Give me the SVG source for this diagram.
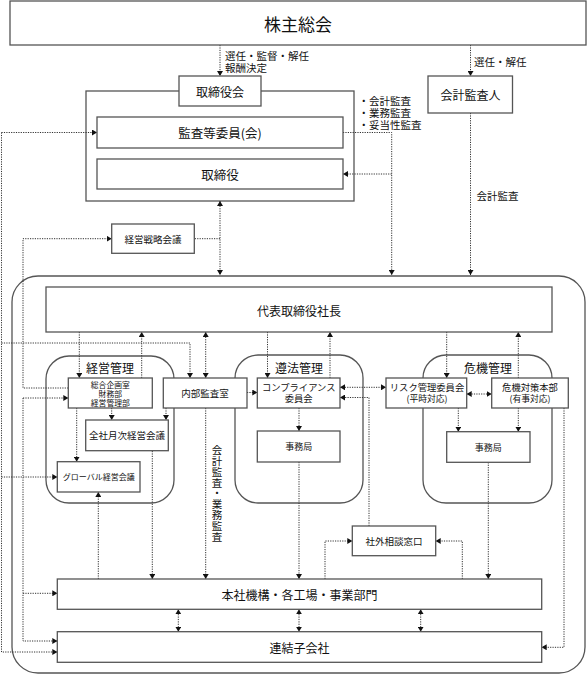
<svg xmlns="http://www.w3.org/2000/svg" width="587" height="674" viewBox="0 0 587 674">
<defs>
<style>
.box{fill:#fff;stroke:#555;stroke-width:1.3}
.frame{fill:none;stroke:#555;stroke-width:1.3}
.c{fill:none;stroke:#333;stroke-width:1;stroke-dasharray:1.2 1.2}
.e{marker-end:url(#a)}
.b{marker-start:url(#a);marker-end:url(#a)}
text{font-family:"Noto Sans CJK JP","Noto Sans CJK SC",sans-serif;fill:#111;text-anchor:middle;dominant-baseline:central}
.lbl{text-anchor:start;font-size:10.5px}
.vert{writing-mode:vertical-rl;text-anchor:start;font-size:10.5px;letter-spacing:0.3px}
</style>
<marker id="a" viewBox="0 0 5 6" refX="5" refY="3" markerWidth="5" markerHeight="6" markerUnits="userSpaceOnUse" orient="auto-start-reverse"><path d="M0,0L5,3L0,6z" fill="#111"/></marker>
</defs>
<rect width="587" height="674" fill="#fff"/>

<!-- frames -->
<g id="frames">
<rect id="board-frame" class="frame" x="86" y="91" width="268" height="110"/>
<rect id="exec-frame" class="frame" x="12" y="276" width="573" height="397" rx="26"/>
<rect id="keiei-frame" class="frame" x="46" y="356" width="128" height="147" rx="23"/>
<rect id="junpo-frame" class="frame" x="235" y="355" width="128" height="148" rx="23"/>
<rect id="kiki-frame" class="frame" x="423" y="355" width="129" height="148" rx="23"/>
<text x="110" y="367" font-size="12">経営管理</text>
<text x="299" y="367" font-size="12">遵法管理</text>
<text x="488" y="367" font-size="12">危機管理</text>
</g>

<!-- connectors -->
<g id="connectors">
<path class="c e" d="M220,45V76"/>
<path class="c e" d="M470.5,45V76"/>
<path class="c e" d="M470.5,113V275"/>
<path class="c e" d="M343,132.5H391.7V275"/>
<path class="c e" d="M391.7,174H343"/>
<path class="c b" d="M220,201V275"/>
<path class="c" d="M220,238.7H194.3"/>
<path class="c e" d="M68.3,388H23V238.7H111.7"/>
<path class="c e" d="M23,398H68.3"/>
<path class="c e" d="M23,398V641H57.3"/>
<path class="c e" d="M23,593.3H57.3"/>
<path class="c e" d="M1.5,132.5H97"/>
<path class="c e" d="M1.5,132.5V652H57.3"/>
<path class="c e" d="M1.5,343H190V378"/>
<path class="c e" d="M1.5,477H57.3"/>
<path class="c e" d="M79.3,332V378"/>
<path class="c e" d="M141.7,378V332"/>
<path class="c b" d="M205.7,332V378"/>
<path class="c e" d="M267.5,332V378"/>
<path class="c e" d="M330,378V332"/>
<path class="c e" d="M446.7,332V378"/>
<path class="c e" d="M518.3,378V332"/>
<path class="c e" d="M247,392.5H257.3"/>
<path class="c b" d="M340,387.3H386"/>
<path class="c e" d="M369,526V397.5H340"/>
<path class="c b" d="M466.7,394H491.7"/>
<path class="c e" d="M458.3,408V431.7"/>
<path class="c e" d="M518.3,408V431.7"/>
<path class="c e" d="M299,408V431"/>
<path class="c e" d="M111.7,408V420"/>
<path class="c e" d="M166,408V420"/>
<path class="c e" d="M76.7,408V461.7"/>
<path class="c e" d="M98.3,579V492"/>
<path class="c e" d="M152.3,451V579"/>
<path class="c e" d="M205.7,408V579"/>
<path class="c e" d="M299,462V579"/>
<path class="c e" d="M325,579V541H352.3"/>
<path class="c e" d="M462.3,579V541H435.7"/>
<path class="c e" d="M488.3,462.3V579"/>
<path class="c e" d="M564,408V647.3H541.7"/>
<path class="c b" d="M178.3,609.3V631.7"/>
<path class="c b" d="M299,609.3V631.7"/>
<path class="c b" d="M420.7,609.3V631.7"/>
<text class="lbl" x="225" y="55.5">選任・監督・解任</text>
<text class="lbl" x="225" y="67">報酬決定</text>
<text class="lbl" x="474" y="61">選任・解任</text>
<text class="lbl" x="358.5" y="100.5">・会計監査</text>
<text class="lbl" x="358.5" y="112.3">・業務監査</text>
<text class="lbl" x="358.5" y="124">・妥当性監査</text>
<text class="lbl" x="476.5" y="195">会計監査</text>
<text class="vert" x="217" y="445">会計監査・業務監査</text>
</g>

<!-- nodes -->
<g id="kabunushi"><rect class="box" x="10" y="1" width="576" height="44"/><text x="298" y="23" font-size="17">株主総会</text></g>
<g id="torishimariyakukai"><rect class="box" x="179" y="76" width="82" height="30"/><text x="220" y="91" font-size="12">取締役会</text></g>
<g id="kaikei-kansanin"><rect class="box" x="428" y="76" width="84.5" height="37"/><text x="470.5" y="94.5" font-size="12">会計監査人</text></g>
<g id="kansa-iin"><rect class="box" x="97" y="117" width="246" height="31"/><text x="220" y="132.5" font-size="12.5">監査等委員(会)</text></g>
<g id="torishimariyaku"><rect class="box" x="97" y="159" width="246" height="30"/><text x="220" y="174" font-size="12.5">取締役</text></g>
<g id="senryaku"><rect class="box" x="111.7" y="224" width="82.6" height="29.3"/><text x="153" y="238.7" font-size="9.5">経営戦略会議</text></g>
<g id="shacho"><rect class="box" x="46" y="287" width="506" height="45"/><text x="299" y="310" font-size="12">代表取締役社長</text></g>
<g id="kikaku"><rect class="box" x="68.3" y="378" width="84" height="30"/><text x="110.3" y="384.2" font-size="7.8">総合企画室</text><text x="110.3" y="393.2" font-size="7.8">財務部</text><text x="110.3" y="402.2" font-size="7.8">経営管理部</text></g>
<g id="naibu-kansa"><rect class="box" x="163.3" y="378" width="83.7" height="30"/><text x="205" y="393" font-size="9.5">内部監査室</text></g>
<g id="compliance"><rect class="box" x="257.3" y="378" width="82.7" height="30"/><text x="298.7" y="387" font-size="9.3">コンプライアンス</text><text x="298.7" y="398" font-size="9.3">委員会</text></g>
<g id="risk"><rect class="box" x="386" y="378" width="80.7" height="30"/><text x="427" y="387" font-size="9.3">リスク管理委員会</text><text x="427" y="398" font-size="8.8">(平時対応)</text></g>
<g id="kiki-taisaku"><rect class="box" x="491.7" y="378" width="76.6" height="30"/><text x="530" y="387" font-size="9.3">危機対策本部</text><text x="530" y="398" font-size="8.8">(有事対応)</text></g>
<g id="jimukyoku1"><rect class="box" x="257.3" y="431" width="82.7" height="31"/><text x="298.7" y="446.5" font-size="9">事務局</text></g>
<g id="jimukyoku2"><rect class="box" x="446.7" y="431.7" width="83.3" height="30.6"/><text x="488.3" y="447" font-size="9">事務局</text></g>
<g id="getsuji"><rect class="box" x="85.7" y="420" width="82.6" height="30.7"/><text x="127" y="435.3" font-size="9.5">全社月次経営会議</text></g>
<g id="global"><rect class="box" x="57.3" y="461.7" width="82.7" height="30.3"/><text x="98.7" y="476.8" font-size="8">グローバル経営会議</text></g>
<g id="shagai"><rect class="box" x="352.3" y="526" width="83.4" height="29.7"/><text x="394" y="541" font-size="9.5">社外相談窓口</text></g>
<g id="honsha"><rect class="box" x="57.3" y="579" width="484.4" height="30.3"/><text x="299.5" y="594" font-size="12">本社機構・各工場・事業部門</text></g>
<g id="renketsu"><rect class="box" x="57.3" y="631.7" width="484.4" height="30.6"/><text x="299.5" y="647" font-size="12">連結子会社</text></g>
</svg>
